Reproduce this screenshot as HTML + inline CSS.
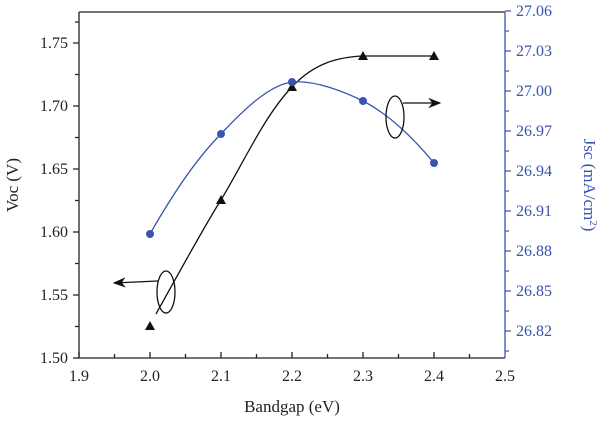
<!DOCTYPE html><html><head><style>body{margin:0;background:#fff}svg{display:block}text{font-family:"Liberation Serif",serif;font-size:16px}</style></head><body>
<svg width="600" height="426" viewBox="0 0 600 426">
<defs><marker id="ah" markerWidth="10" markerHeight="8" refX="9" refY="4" orient="auto"><path d="M0,0L10,4L0,8L3,4Z" fill="#111"/></marker></defs>
<g stroke="#222" stroke-width="1.3" fill="none">
<path d="M79,12H505"/><path d="M79,12V358H505"/>
<path d="M73,43H79M73,106H79M73,169H79M73,232H79M73,295H79M73,358H79M75,74.5H79M75,137.5H79M75,200.5H79M75,263.5H79M75,326.5H79M75,22H79"/>
<path d="M79,358v-6M150,358v-6M221,358v-6M292,358v-6M363,358v-6M434,358v-6M114.5,358v-4M185.5,358v-4M256.5,358v-4M327.5,358v-4M398.5,358v-4M469.5,358v-4"/>
</g>
<g stroke="#3a55b0" stroke-width="1.3" fill="none">
<path d="M505,12V358"/>
<path d="M505,11h6M505,51h6M505,91h6M505,131h6M505,171h6M505,211h6M505,251h6M505,291h6M505,331h6M505,31h4M505,71h4M505,111h4M505,151h4M505,191h4M505,231h4M505,271h4M505,311h4M505,351h4"/>
</g>
<g text-anchor="end" fill="#222">
<text x="68" y="48">1.75</text><text x="68" y="111">1.70</text><text x="68" y="174">1.65</text><text x="68" y="237">1.60</text><text x="68" y="300">1.55</text><text x="68" y="363">1.50</text>
</g>
<g fill="#3a55b0">
<text x="516" y="16">27.06</text><text x="516" y="56">27.03</text><text x="516" y="96">27.00</text><text x="516" y="136">26.97</text><text x="516" y="176">26.94</text><text x="516" y="216">26.91</text><text x="516" y="256">26.88</text><text x="516" y="296">26.85</text><text x="516" y="336">26.82</text>
<text transform="translate(584,185) rotate(90)" text-anchor="middle" style="font-size:17px">Jsc (mA/cm<tspan dy="-6" style="font-size:11px">2</tspan><tspan dy="6">)</tspan></text>
</g>
<g text-anchor="middle" fill="#222">
<text x="79" y="381">1.9</text><text x="150" y="381">2.0</text><text x="221" y="381">2.1</text><text x="292" y="381">2.2</text><text x="363" y="381">2.3</text><text x="434" y="381">2.4</text><text x="505" y="381">2.5</text>
<text x="292" y="412" style="font-size:17px">Bandgap (eV)</text>
<text transform="translate(18,185) rotate(-90)" text-anchor="middle" style="font-size:17px">Voc (V)</text>
</g>
<path d="M156,314 C175,280 205,225 221,200 C245,160 265,115 292,87 C315,62 340,57 363,56 C390,56 415,56 434,56" stroke="#111" stroke-width="1.3" fill="none"/>
<path d="M150,234 C175,190 200,155 221,134 C245,108 270,85 292,82 C315,80 345,92 363,101 C390,115 415,140 434,163" stroke="#3a55b0" stroke-width="1.3" fill="none"/>
<g fill="#111"><path d="M145,330l5,-9l5,9z"/><path d="M216,204l5,-9l5,9z"/><path d="M287,91l5,-9l5,9z"/><path d="M358,60l5,-9l5,9z"/><path d="M429,60l5,-9l5,9z"/></g>
<g fill="#3a55b0"><circle cx="150" cy="234" r="4"/><circle cx="221" cy="134" r="4"/><circle cx="292" cy="82" r="4"/><circle cx="363" cy="101" r="4"/><circle cx="434" cy="163" r="4"/></g>
<g stroke="#111" stroke-width="1.3" fill="none">
<ellipse cx="166" cy="292" rx="9" ry="21"/><path d="M158,281L114,283" marker-end="url(#ah)"/>
<ellipse cx="395" cy="117" rx="9" ry="21"/><path d="M403,103L440,103" marker-end="url(#ah)"/>
</g>
</svg></body></html>
